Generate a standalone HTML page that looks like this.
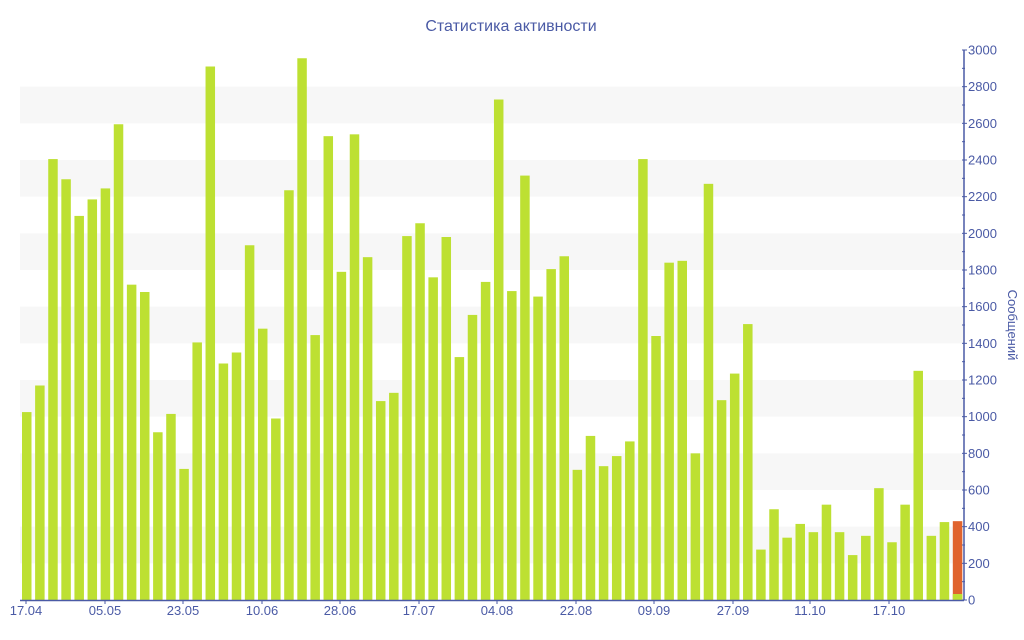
<!DOCTYPE html>
<html><head><meta charset="utf-8"><style>
html,body{margin:0;padding:0;background:#fff;}
svg{display:block;font-family:"Liberation Sans","DejaVu Sans",sans-serif;}
</style></head><body>
<svg id="c" width="1024" height="640" xmlns="http://www.w3.org/2000/svg">
<text x="511" y="31" text-anchor="middle" font-size="16" fill="#4a5aa5">Статистика активности</text>
<g id="bands"></g>
<g id="bars"></g>
<line x1="20" y1="600.5" x2="964" y2="600.5" stroke="#4a5aa5" stroke-width="1.5"/>
<line x1="964" y1="50" x2="964" y2="600" stroke="#4a5aa5" stroke-width="1.5"/>
<g id="ax" font-size="13" fill="#4a5aa5"></g>
<text transform="translate(1008,325) rotate(90)" text-anchor="middle" font-size="13" fill="#4a5aa5">Сообщений</text>
</svg>
<script>
var ns="http://www.w3.org/2000/svg";
function el(p,t,a,txt){var e=document.createElementNS(ns,t);for(var k in a)e.setAttribute(k,a[k]);if(txt)e.textContent=txt;document.getElementById(p).appendChild(e);}
var k=550/3000;
for(var v=200;v<3000;v+=400){el("bands","rect",{x:20,y:600-(v+200)*k,width:944,height:200*k,fill:"#f7f7f7"});}
var d=[1025,1170,2405,2295,2095,2185,2245,2595,1720,1680,915,1015,715,1405,2910,1290,1350,1935,1480,990,2235,2955,1445,2530,1790,2540,1870,1085,1130,1985,2055,1760,1980,1325,1555,1735,2730,1685,2315,1655,1805,1875,710,895,730,785,865,2405,1440,1840,1850,800,2270,1090,1235,1505,275,495,340,415,370,520,370,245,350,610,315,520,1250,350,425,430];
for(var i=0;i<d.length;i++){var x=22+i*13.11;var h=d[i]*k;
 if(i==d.length-1){el("bars","rect",{x:x,y:600-h,width:9.5,height:h,fill:"#e0632e"});el("bars","rect",{x:x,y:594,width:9.5,height:6,fill:"#bde032"});}
 else el("bars","rect",{x:x,y:600-h,width:9.5,height:h,fill:"#bde032"});}
for(var v=0;v<=3000;v+=100){var y=600-v*k;
 if(v%200==0){el("ax","line",{x1:962,y1:y,x2:967,y2:y,stroke:"#4a5aa5"});el("ax","text",{x:968,y:y+4.5},String(v));}
 else el("ax","line",{x1:962,y1:y,x2:965,y2:y,stroke:"#4a5aa5"});}
var L=[["17.04",26],["05.05",105],["23.05",183],["10.06",262],["28.06",340],["17.07",419],["04.08",497],["22.08",576],["09.09",654],["27.09",733],["11.10",810],["17.10",889]];
L.forEach(function(l){el("ax","line",{x1:l[1],y1:600,x2:l[1],y2:604,stroke:"#4a5aa5"});el("ax","text",{x:l[1],y:615,"text-anchor":"middle"},l[0]);});
</script>
</body></html>
